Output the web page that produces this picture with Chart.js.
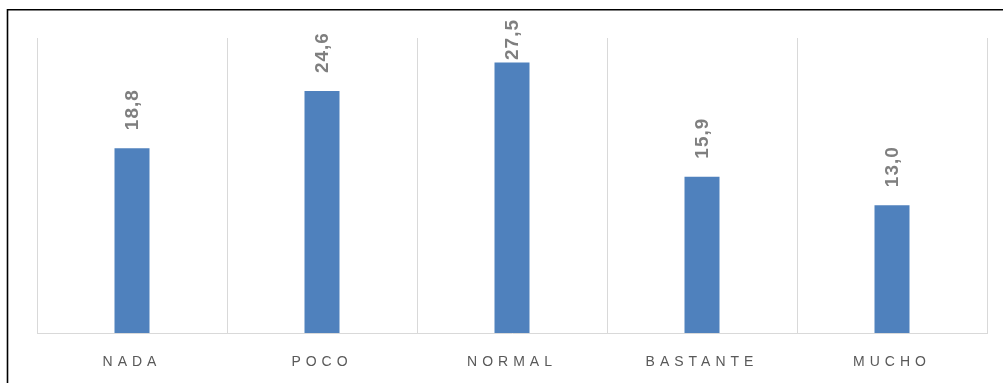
<!DOCTYPE html>
<html>
<head>
<meta charset="utf-8">
<script src="https://cdn.jsdelivr.net/npm/chart.js@4"></script>
<style>
  html, body { margin: 0; padding: 0; background: #fff; overflow: hidden; }
  #wrap { width: 1003px; height: 383px; position: relative; }
</style>
</head>
<body>
<div id="wrap"><canvas id="c" width="1003" height="383"></canvas></div>
<script>
const categories = ['NADA', 'POCO', 'NORMAL', 'BASTANTE', 'MUCHO'];
const values = [18.8, 24.6, 27.5, 15.9, 13.0];
const yMin = 0;
const yMax = 30;

const BAR_COLOR = '#4F81BD';
const GRID_COLOR = '#D9D9D9';
const TICK_COLOR = '#595959';
const LABEL_COLOR = '#7F7F7F';

// Outer frame of the chart object (top and left edges fall inside the canvas)
const framePlugin = {
  id: 'frame',
  beforeDraw(chart) {
    const ctx = chart.ctx;
    ctx.save();
    ctx.fillStyle = '#fff';
    ctx.fillRect(0, 0, chart.width, chart.height);
    ctx.strokeStyle = '#000';
    ctx.lineWidth = 1.6;
    ctx.beginPath();
    ctx.moveTo(7.5, chart.height + 5);
    ctx.lineTo(7.5, 9.8);
    ctx.lineTo(chart.width + 5, 9.8);
    ctx.stroke();
    ctx.restore();
    // wide letter spacing for category labels
    ctx.letterSpacing = '5px';
  },
  afterDraw(chart) {
    chart.ctx.letterSpacing = '0px';
  }
};

// Rotated value labels above each bar, kept inside the frame
const valueLabels = {
  id: 'valueLabels',
  afterDatasetsDraw(chart) {
    const ctx = chart.ctx;
    const meta = chart.getDatasetMeta(0);
    ctx.save();
    ctx.letterSpacing = '1px';
    ctx.font = 'bold 19px "Liberation Sans", Arial, sans-serif';
    ctx.fillStyle = LABEL_COLOR;
    ctx.textAlign = 'left';
    ctx.textBaseline = 'middle';
    meta.data.forEach((bar, i) => {
      const text = values[i].toFixed(1).replace('.', ',');
      const w = ctx.measureText(text).width;
      let start = bar.y - 18;
      const minStart = 19 + w;
      if (start < minStart) start = minStart;
      ctx.save();
      ctx.translate(bar.x + 1, start);
      ctx.rotate(-Math.PI / 2);
      ctx.fillText(text, 0, 0);
      ctx.restore();
    });
    ctx.restore();
  }
};

new Chart(document.getElementById('c'), {
  type: 'bar',
  data: {
    labels: categories,
    datasets: [{
      data: values,
      backgroundColor: BAR_COLOR,
      borderWidth: 0,
      categoryPercentage: 1,
      barPercentage: 35 / 190
    }]
  },
  options: {
    responsive: false,
    animation: false,
    devicePixelRatio: 1,
    layout: { padding: { left: 37, right: 16, top: 38, bottom: 0 } },
    plugins: {
      legend: { display: false },
      tooltip: { enabled: false }
    },
    scales: {
      x: {
        offset: true,
        grid: {
          offset: true,
          color: GRID_COLOR,
          lineWidth: 1,
          drawTicks: false
        },
        border: { color: GRID_COLOR, width: 1 },
        ticks: {
          color: TICK_COLOR,
          font: { family: '"Liberation Sans", Arial, sans-serif', size: 14 },
          padding: 21,
          maxRotation: 0
        },
        afterFit(scale) { scale.height = 50; }
      },
      y: {
        display: false,
        min: yMin,
        max: yMax
      }
    }
  },
  plugins: [framePlugin, valueLabels]
});
</script>
</body>
</html>
